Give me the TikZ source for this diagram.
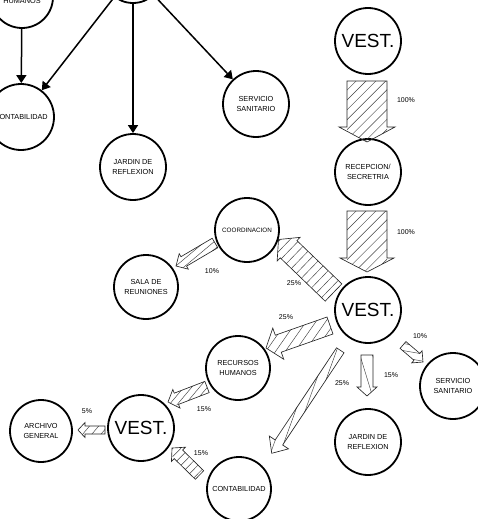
\documentclass[tikz,border=0pt]{standalone}
\usepackage{fontspec}
\setmainfont{Liberation Sans}
\usetikzlibrary{arrows.meta}

\newcommand\lblfont{\fontsize{7.3}{10}\selectfont}
\newcommand\blockarr[7]{% tail, tip, shaft half width, head half width, head length, hatch angle (global), spacing
  \pgfpointanchor{#1}{center}\pgfgetlastxy{\baAx}{\baAy}%
  \pgfpointanchor{#2}{center}\pgfgetlastxy{\baBx}{\baBy}%
  \pgfmathsetmacro\baAng{atan2(\baBy-\baAy,\baBx-\baAx)}%
  \pgfmathsetmacro\baLen{veclen(\baBx-\baAx,\baBy-\baAy)}%
  \pgfmathsetmacro\baH{#6-\baAng}%
  \pgfmathsetmacro\baS{\baLen-#5}%
  \pgfmathsetmacro\baDx{#7/max(abs(sin(\baH)),0.15)}%
  \pgfmathtruncatemacro\baN{(\baLen+200)/\baDx}%
  \begin{scope}[shift={(\baAx,\baAy)}, rotate=\baAng, x=1pt, y=1pt]
    \begin{scope}
      \clip (0,-#3) -- (\baS,-#3) -- (\baS,-#4) -- (\baLen,0) -- (\baS,#4) -- (\baS,#3) -- (0,#3) -- cycle;
      \clip (-1,-#3) rectangle (\baLen+1,#3);
      \foreach \baI in {0,...,\baN} {
        \pgfmathsetmacro\baP{-100+\baI*\baDx}
        \draw[hatchline] (\baP,0) ++(\baH:-120) -- ++(\baH:240);
      }
    \end{scope}
    \draw[arrowline] (0,-#3) -- (\baS,-#3) -- (\baS,-#4) -- (\baLen,0) -- (\baS,#4) -- (\baS,#3) -- (0,#3) -- cycle;
  \end{scope}}

\tikzset{
  place/.style={circle, draw=black, line width=1.8pt, minimum size=66pt, inner sep=0pt, align=center, font=\lblfont},
  vest/.style={place, font=\fontsize{19}{20}\selectfont},
  pct/.style={inner sep=0pt, font=\fontsize{7}{8}\selectfont},
  conn/.style={line width=1.5pt, -{Triangle[length=8pt,width=10pt]}},
  arrowline/.style={draw=black!85, line width=0.65pt, line join=miter},
  hatchline/.style={black!75, line width=0.45pt},
}

\begin{document}
\begin{tikzpicture}[x=1pt, y=-1pt]
\useasboundingbox (0,0) rectangle (477,519);

% ---- top left part
\node[place, minimum size=62pt] (hum) at (22,-3) {};
\node[inner sep=0pt, font=\lblfont] (humtxt) at (22,1) {HUMANOS};
\node[place, minimum size=60pt] (topc) at (133,-27) {};
\node[place] (contabA) at (21,117) {CONTABILIDAD};
\node[place] (jardinA) at (133,167) {JARDIN DE\\REFLEXION};
\node[place] (servA) at (256,104) {SERVICIO\\SANITARIO};

\draw[conn] (hum) -- (contabA);
\draw[conn] (topc) -- (contabA);
\draw[conn] (topc) -- (jardinA);
\draw[conn] (topc) -- (servA);

% ---- right part
\node[vest] (vestA) at (368,41) {VEST.};
\node[place] (recep) at (368,172) {RECEPCION/\\SECRETRIA};
\node[vest] (vestB) at (368,310) {VEST.};
\node[place, minimum size=64pt, font=\fontsize{6.3}{8}\selectfont] (coord) at (247,230) {COORDINACION};
\node[place, minimum size=64pt] (sala) at (146,287) {SALA DE\\REUNIONES};
\node[place, minimum size=64pt] (recur) at (238,368) {RECURSOS\\HUMANOS};
\node[place, minimum size=64pt] (contabB) at (239,489) {CONTABILIDAD};
\node[vest] (vestC) at (141,428) {VEST.};
\node[place, minimum size=62pt] (archivo) at (41,431) {ARCHIVO\\GENERAL};
\node[place] (jardinB) at (368,442) {JARDIN DE\\REFLEXION};
\node[place] (servB) at (453,386) {SERVICIO\\SANITARIO};

% block arrow end points
\coordinate (t1) at (367,81);   \coordinate (p1) at (367,142);
\coordinate (t2) at (367,211);  \coordinate (p2) at (367,272);
\coordinate (t3) at (333.5,292.5); \coordinate (p3) at (278.5,239.5);
\coordinate (t4) at (215,243);  \coordinate (p4) at (176,266);
\coordinate (t5) at (330,325.5); \coordinate (p5) at (266,348);
\coordinate (t6) at (340.3,350.3); \coordinate (p6) at (271.7,453.3);
\coordinate (t7) at (207,387);  \coordinate (p7) at (168,402);
\coordinate (t8) at (105,430);  \coordinate (p8) at (78,430);
\coordinate (t9) at (199.5,475); \coordinate (p9) at (172,448);
\coordinate (t10) at (367,355); \coordinate (p10) at (367,396);
\coordinate (t11) at (403,345); \coordinate (p11) at (423,362);

\blockarr{t1}{p1}{20}{28}{15}{45}{7}
\blockarr{t2}{p2}{20}{27}{14}{45}{7}
\blockarr{t3}{p3}{12}{16.5}{14}{46}{7}
\blockarr{t4}{p4}{5.5}{9}{9}{40}{6}
\blockarr{t5}{p5}{9}{16.5}{13}{55}{8}
\blockarr{t6}{p6}{4.5}{11.5}{13}{70}{9}
\blockarr{t7}{p7}{6}{10}{9}{50}{6}
\blockarr{t8}{p8}{4}{7.5}{7}{50}{7}
\blockarr{t9}{p9}{6}{10}{9}{45.5}{6}
\blockarr{t10}{p10}{6}{10}{9}{-73}{12}
\blockarr{t11}{p11}{4.5}{8}{8}{-10}{7}

% percentages
\node[pct] (l1) at (406,100) {100\%};
\node[pct] (l2) at (406,232) {100\%};
\node[pct] (l3) at (294,283) {25\%};
\node[pct] (l4) at (212,271) {10\%};
\node[pct] (l5) at (286,317) {25\%};
\node[pct] (l6) at (342,383) {25\%};
\node[pct] (l7) at (391,375) {15\%};
\node[pct] (l8) at (420,336) {10\%};
\node[pct] (l9) at (204,409) {15\%};
\node[pct] (l10) at (201,453) {15\%};
\node[pct] (l11) at (87,411) {5\%};
\end{tikzpicture}
\end{document}
